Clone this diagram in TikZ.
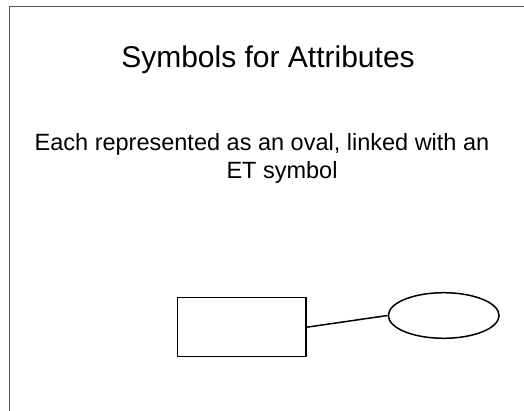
\documentclass[tikz,border=0pt]{standalone}
\usepackage{fontspec}
\setmainfont{Liberation Sans}
\usetikzlibrary{shapes.geometric}
\begin{document}
\begin{tikzpicture}[x=1pt,y=-1pt,
  shapeline/.style={draw=black,line width=1.5pt},
  frameline/.style={draw=black!65,line width=1pt},
  txt/.style={anchor=base,inner sep=0pt,text=black}]
\useasboundingbox (0,0) rectangle (524,411);
\coordinate (fa) at (524,7);
\coordinate (fb) at (9,7);
\coordinate (fc) at (9,411);
\draw[frameline] (fa) -- (fb) -- (fc);
\node[txt,font=\fontsize{30}{36}\selectfont] (title) at (268,68) {Symbols for Attributes};
\node[txt,font=\fontsize{23.5}{28}\selectfont] (l1) at (262,151) {Each represented as an oval, linked with an};
\node[txt,font=\fontsize{23.5}{28}\selectfont] (l2) at (282,179) {ET symbol};
\node[shapeline,rectangle,minimum width=128.7pt,minimum height=59pt,inner sep=0pt] (et) at (241.7,327.2) {};
\node[shapeline,ellipse,minimum width=110.7pt,minimum height=45.6pt,inner sep=0pt] (attr) at (443.7,315.5) {};
\draw[line width=1.5pt] (et.east) -- (attr.west);
\end{tikzpicture}
\end{document}
